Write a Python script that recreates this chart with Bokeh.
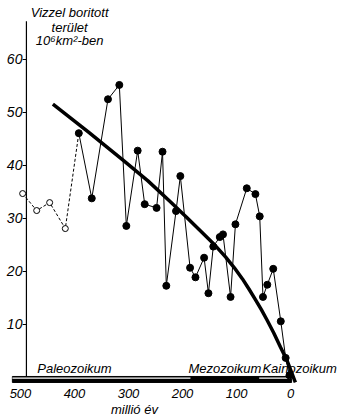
from bokeh.plotting import figure
from bokeh.models import Range1d
from bokeh.core.properties import value
from bokeh.embed import file_html
from bokeh.resources import INLINE

# --- data (age in million years, area in 10^6 km^2) ---
open_age = [496, 470, 446, 417, 392]
open_val = [34.7, 31.5, 33.0, 28.1, 46.1]

filled_age = [392, 368, 338, 317, 304, 283, 270, 248, 237, 230, 212, 204, 186, 176,
              160, 152, 143, 131, 125, 111, 102, 81, 65, 57, 51, 43, 32, 18, 9, 2]
filled_val = [46.1, 33.8, 52.5, 55.2, 28.6, 42.8, 32.7, 32.0, 42.6, 17.3, 31.4, 38.0,
              20.7, 18.9, 22.6, 15.9, 24.7, 26.5, 27.0, 15.2, 28.9, 35.7, 34.6, 30.4,
              15.2, 17.5, 20.5, 10.6, 3.7, 0.4]

trend_age = [440, 374, 309, 264, 222, 193, 167, 143, 120, 104, 89, 77, 65, 54, 43, 31, 18.5, 6, -9]
trend_val = [51.6, 46.3, 40.9, 37.1, 33.1, 30.3, 27.7, 25.3, 22.7, 20.7, 18.6, 16.7, 14.7, 12.8,
             10.75, 8.4, 5.7, 3.1, -0.9]

y_ticks = [10, 20, 30, 40, 50, 60]
y_tick_labels = ["10", "20", "30", "40", "50", "60"]
x_ticks = [500, 400, 300, 200, 100, 0]
x_tick_labels = ["500", "400", "300", "200", "100", "0"]

era_names = ["Paleozoikum", "Mezozoikum", "Kainozoikum"]
era_label_age = [469, 189, 52]
era_from = [515, 185, 58]
era_to = [185, 58, -2]
era_fill = ["white", "black", "white"]

y_title = ["Vizzel boritott", "terület", "10⁶km²-ben"]
x_title = "millió év"

axis_age = 489
axis_top = 67.2

FONT = value("Liberation Sans")

p = figure(width=341, height=417,
           x_range=Range1d(537, -94.4), y_range=Range1d(-7.55, 71.13),
           output_backend="svg", toolbar_location=None,
           x_axis_location=None, y_axis_location=None, min_border=0)
p.outline_line_color = None
p.grid.grid_line_color = None
p.background_fill_color = "white"
p.border_fill_color = "white"

# y axis line, ticks and labels
p.segment(x0=[axis_age], y0=[0], x1=[axis_age], y1=[axis_top], line_color="black", line_width=1.2)
p.segment(x0=[axis_age] * len(y_ticks), y0=y_ticks, x1=[axis_age + 7] * len(y_ticks), y1=y_ticks,
          line_color="black", line_width=1.2)
p.text(x=[axis_age] * len(y_ticks), y=y_ticks, text=y_tick_labels, x_offset=-4,
       text_font=FONT, text_font_style="italic", text_font_size="14px",
       text_align="right", text_baseline="middle", text_color="black")

# y title
p.text(x=[409, 409, 409], y=[68.9, 66.1, 63.5], text=y_title,
       text_font=FONT, text_font_style="italic", text_font_size="13px",
       text_align="center", text_baseline="middle", text_color="black")

# time bar
p.quad(left=[era_from[0]], right=[era_to[-1]], bottom=[-0.94], top=[0.19],
       fill_color="black", line_color="black", line_width=1)
p.quad(left=era_from, right=era_to, bottom=[-0.22] * 3, top=[0.0] * 3,
       fill_color=era_fill, line_color=None)

# era labels
p.text(x=era_label_age, y=[1.7] * 3, text=era_names,
       text_font=FONT, text_font_style="italic", text_font_size="13px",
       text_align="left", text_baseline="middle", text_color="black")

# x tick labels and title
p.text(x=x_ticks, y=[-3.0] * len(x_ticks), text=x_tick_labels,
       text_font=FONT, text_font_style="italic", text_font_size="13px",
       text_align="center", text_baseline="middle", text_color="black")
p.text(x=[289], y=[-6.1], text=[x_title],
       text_font=FONT, text_font_style="italic", text_font_size="13px",
       text_align="center", text_baseline="middle", text_color="black")

# dashed early series with open circles
p.line(open_age, open_val, line_color="black", line_width=1, line_dash="3 2")
p.scatter(open_age[:-1], open_val[:-1], size=6, marker="circle",
          fill_color="white", line_color="black", line_width=1)

# solid series with filled dots
p.line(filled_age, filled_val, line_color="black", line_width=1)
p.scatter(filled_age, filled_val, size=7, marker="circle",
          fill_color="black", line_color="black")

# trend curve
p.line(trend_age, trend_val, line_color="black", line_width=3.5)

open("out.html", "w").write(file_html(p, INLINE))
